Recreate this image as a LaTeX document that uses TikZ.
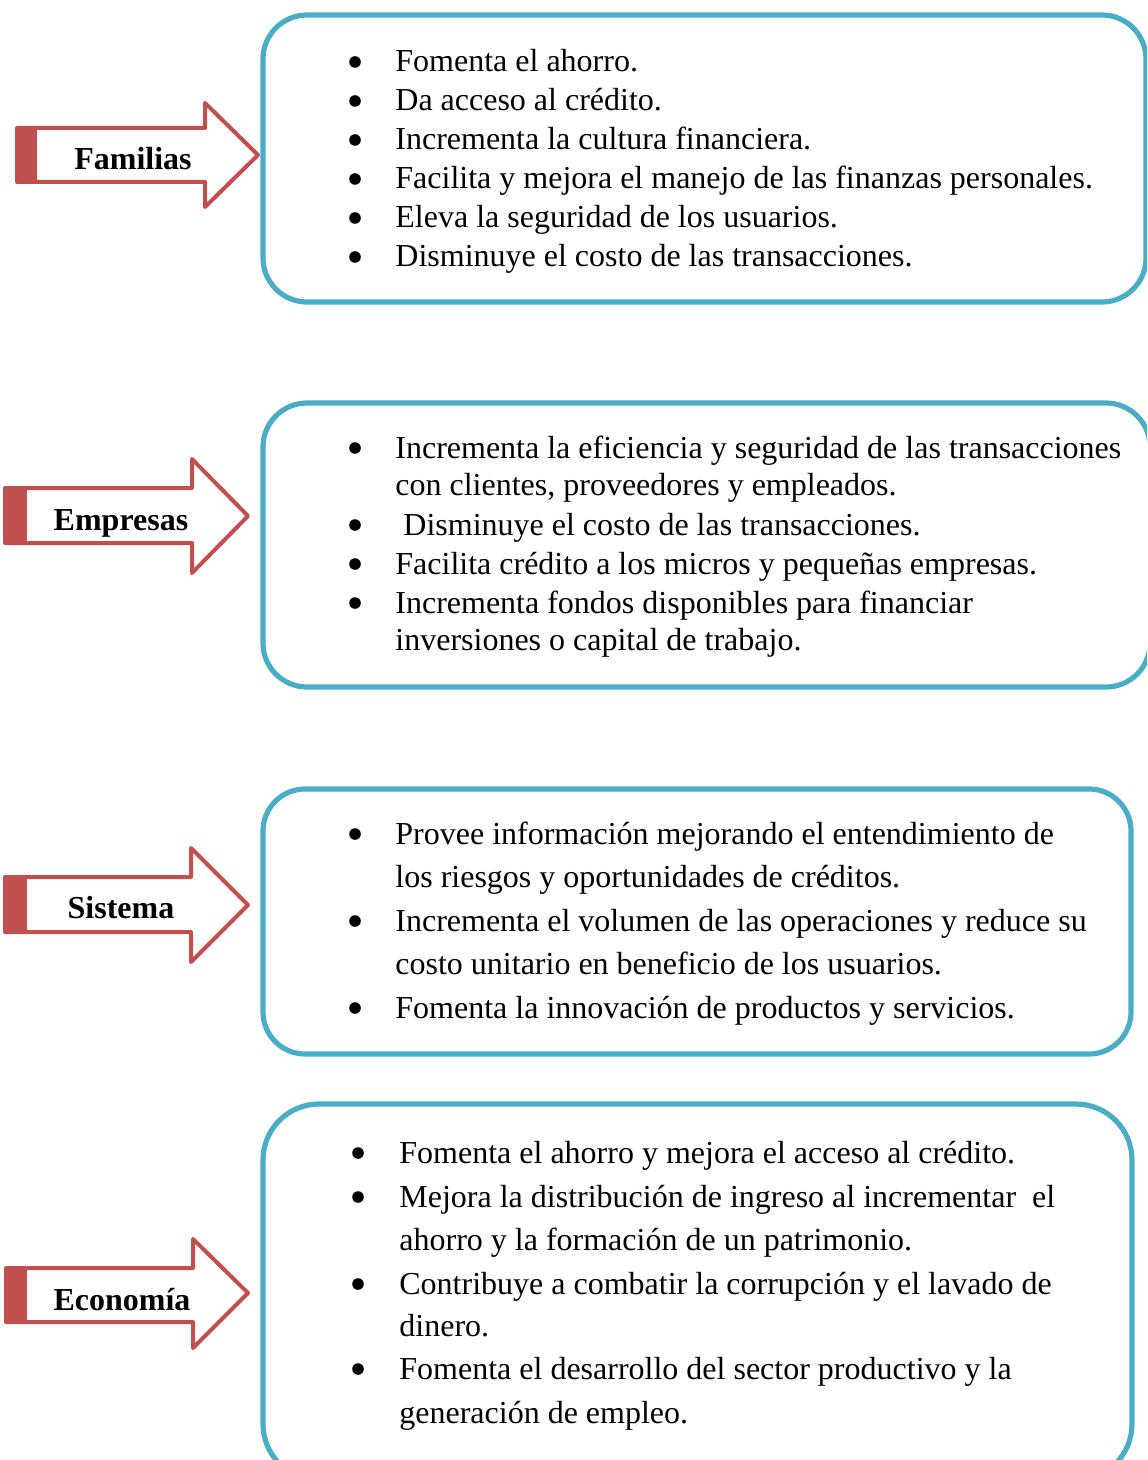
\documentclass[tikz,border=0pt]{standalone}
\usepackage{fontspec}
\setmainfont{Liberation Serif}
\definecolor{rojo}{HTML}{C0504D}
\definecolor{aqua}{HTML}{4BACC6}
\begin{document}
\begin{tikzpicture}[x=0.5pt,y=-0.5pt,
    caja/.style={draw=aqua,line width=2.6pt,rounded corners=22pt},
    flecha/.style={draw=rojo,line width=2pt,line join=round,fill=white},
    barra/.style={fill=rojo},
    etiqueta/.style={anchor=base,inner sep=0pt,font=\fontsize{16pt}{19pt}\selectfont\bfseries},
    linea/.style={anchor=base west,inner sep=0pt,font=\fontsize{16pt}{19pt}\selectfont}]
      \useasboundingbox (0,0) rectangle (1147,1460);
      \clip (0,0) rectangle (1147,1460);
      \draw[caja] (263,15) rectangle (1146,302);
      \draw[caja] (263,403) rectangle (1150,687);
      \draw[caja,rounded corners=21pt] (263,789) rectangle (1131,1054);
      \draw[caja,rounded corners=28pt] (263,1104) rectangle (1132,1480);
      \draw[flecha]
      (17,128) --
      (205,128) --
      (205,103) --
      (258,155) --
      (205,207) --
      (205,182) --
      (17,182) -- cycle;
      \fill[barra] (17,126) rectangle ++ (20,58);
      \draw[flecha]
      (5,488) --
      (192,488) --
      (192,459) --
      (248,516) --
      (192,573) --
      (192,543) --
      (5,543) -- cycle;
      \fill[barra] (5,486) rectangle ++ (22,59);
      \draw[flecha]
      (5,877) --
      (191,877) --
      (191,848) --
      (248,905) --
      (191,962) --
      (191,932) --
      (5,932) -- cycle;
      \fill[barra] (5,875) rectangle ++ (22,59);
      \draw[flecha]
      (6,1268) --
      (193,1268) --
      (193,1239) --
      (248,1293) --
      (193,1348) --
      (193,1322) --
      (6,1322) -- cycle;
      \fill[barra] (6,1266) rectangle ++ (21,58);
      \node[etiqueta] (familias) at (133,170) {Familias};
      \node[etiqueta] (empresas) at (121,530) {Empresas};
      \node[etiqueta] (sistema) at (121,918) {Sistema};
      \node[etiqueta] (economia) at (122,1310) {Economía};
      \foreach \y/\b/\t [count=\i] in {
        72/1/{Fomenta el ahorro.},
        111/1/{Da acceso al crédito.},
        150/1/{Incrementa la cultura financiera.},
        189/1/{Facilita y mejora el manejo de las finanzas personales.},
        228/1/{Eleva la seguridad de los usuarios.},
        267/1/{Disminuye el costo de las transacciones.}} {
        \node[linea] (fam\i) at (395,\y) {\t};
        \ifnum\b=1 \fill (355,\y-10) circle[radius=2.9pt]; \fi
      }
      \foreach \y/\b/\t [count=\i] in {
        458/1/{Incrementa la eficiencia y seguridad de las transacciones},
        495/0/{con clientes, proveedores y empleados.},
        535/1/{\ Disminuye el costo de las transacciones.},
        574/1/{Facilita crédito a los micros y pequeñas empresas.},
        613/1/{Incrementa fondos disponibles para financiar},
        650/0/{inversiones o capital de trabajo.}} {
        \node[linea] (emp\i) at (395,\y) {\t};
        \ifnum\b=1 \fill (355,\y-10) circle[radius=2.9pt]; \fi
      }
      \foreach \y/\b/\t [count=\i] in {
        844/1/{Provee información mejorando el entendimiento de},
        887/0/{los riesgos y oportunidades de créditos.},
        931/1/{Incrementa el volumen de las operaciones y reduce su},
        974/0/{costo unitario en beneficio de los usuarios.},
        1018/1/{Fomenta la innovación de productos y servicios.}} {
        \node[linea] (sis\i) at (395,\y) {\t};
        \ifnum\b=1 \fill (355,\y-10) circle[radius=2.9pt]; \fi
      }
      \foreach \y/\b/\t [count=\i] in {
        1163/1/{Fomenta el ahorro y mejora el acceso al crédito.},
        1207/1/{Mejora la distribución de ingreso al incrementar\ \ el},
        1250/0/{ahorro y la formación de un patrimonio.},
        1294/1/{Contribuye a combatir la corrupción y el lavado de},
        1336/0/{dinero.},
        1379/1/{Fomenta el desarrollo del sector productivo y la},
        1423/0/{generación de empleo.}} {
        \node[linea] (eco\i) at (399,\y) {\t};
        \ifnum\b=1 \fill (358,\y-10) circle[radius=2.9pt]; \fi
      }
    \end{tikzpicture}
\end{document}
